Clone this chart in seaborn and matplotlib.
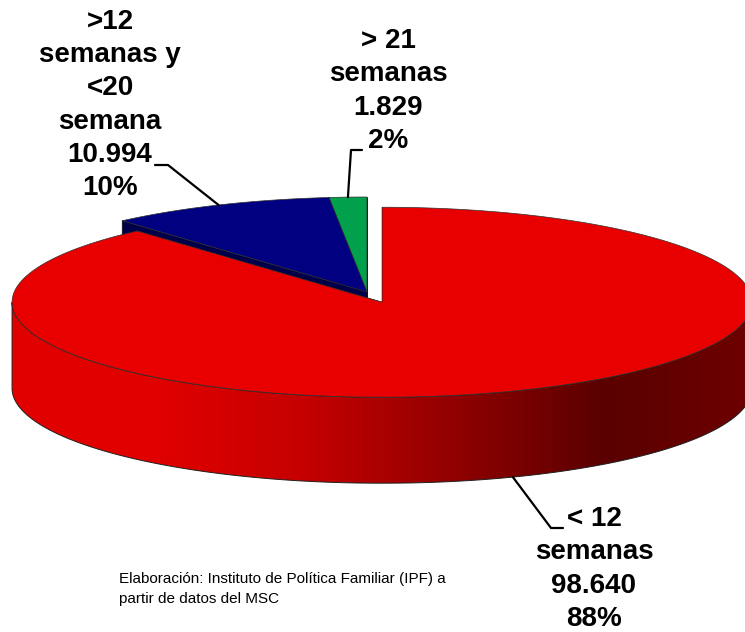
import numpy as np
import matplotlib
matplotlib.use('Agg')
import matplotlib.pyplot as plt
from matplotlib.patches import Polygon
from matplotlib.colors import ListedColormap
import seaborn as sns

# datos (orden: empezando en las 12 en punto, sentido antihorario)
categories = ['> 21\nsemanas', '>12\nsemanas y\n<20\nsemana', '< 12\nsemanas']
counts = [1829, 10994, 98640]
count_labels = ['1.829', '10.994', '98.640']
pct_labels = ['2%', '10%', '88%']
top_colors = ['#00a04c', '#000080', '#e80000']
face_colors = ['#006a34', '#00004a', '#b00000']
side_stops = ['#e20000', '#e00000', '#c40000', '#900000', '#5a0000', '#6e0000']
note = 'Elaboración: Instituto de Política Familiar (IPF) a\npartir de datos del MSC'

# layout (px, y hacia abajo)
W, H = 745, 632
CX, CY = 367, 292
A, B = 370, 95
DEPTH = 86
explode = [0.0, 0.0, 0.115]
label_xy = [(388, 91), (110, 105), (594, 569)]
elbows = [[(351, 150), (362, 150)], [(168, 165), (155, 165)], [(551, 528), (563, 528)]]

sns.set_theme(style='white')
plt.rcParams['font.family'] = ['Liberation Sans', 'DejaVu Sans']

fig = plt.figure(figsize=(W / 100, H / 100), dpi=100)
ax = fig.add_axes([0, 0, 1, 1])
ax.set_xlim(0, W)
ax.set_ylim(H, 0)
ax.axis('off')


def rim(t, cx, cy, dy=0):
    t = np.radians(t)
    return cx + A * np.cos(t), cy - B * np.sin(t) + dy


fr = np.array(counts) / np.sum(counts)
edges = 90 + 360 * np.concatenate([[0], np.cumsum(fr)])
side_cmap = ListedColormap(sns.blend_palette(side_stops, 256))

for i in range(len(counts)):
    t0, t1 = edges[i], edges[i + 1]
    mid = (t0 + t1) / 2
    ox = explode[i] * A * np.cos(np.radians(mid))
    oy = -explode[i] * B * np.sin(np.radians(mid))
    cx, cy = CX + ox, CY + oy

    # caras radiales
    for t in (t0, t1):
        x, y = rim(t, cx, cy)
        ax.add_patch(Polygon([(cx, cy), (x, y), (x, y + DEPTH), (cx, cy + DEPTH)],
                             closed=True, fc=face_colors[i], ec='#101010', lw=0.5))

    # lateral frontal
    lo, hi = max(t0, 180), min(t1, 360)
    if hi > lo:
        ts = np.linspace(lo, hi, 200)
        xs, ys = rim(ts, cx, cy)
        poly = np.vstack([np.column_stack([xs, ys]),
                          np.column_stack([xs[::-1], ys[::-1] + DEPTH])])
        side = Polygon(poly, closed=True, fc='none', ec='#202020', lw=0.7, zorder=2)
        ax.add_patch(side)
        grad = np.linspace(0, 1, 256)[None, :]
        im = ax.imshow(grad, cmap=side_cmap, aspect='auto',
                       extent=(cx - A, cx + A, cy + B + DEPTH, cy - B), zorder=1)
        im.set_clip_path(side)

    # tapa
    ts = np.linspace(t0, t1, 300)
    xs, ys = rim(ts, cx, cy)
    top = np.vstack([[cx, cy], np.column_stack([xs, ys])])
    ax.add_patch(Polygon(top, closed=True, fc=top_colors[i], ec='#303030', lw=0.5, zorder=3))

    # etiqueta y guía
    if i == 2:
        ax_, ay_ = rim(mid, cx, cy, DEPTH)
    else:
        ax_, ay_ = rim(mid, cx, cy)
    path = [(ax_, ay_)] + elbows[i]
    ax.plot([p[0] for p in path], [p[1] for p in path], color='black', lw=1.6, zorder=4)
    ax.text(label_xy[i][0], label_xy[i][1],
            f'{categories[i]}\n{count_labels[i]}\n{pct_labels[i]}',
            ha='center', va='center', fontsize=20, fontweight='bold',
            linespacing=1.36, color='black', zorder=5)

ax.text(119, 589, note, ha='left', va='center', fontsize=11,
        linespacing=1.5, color='black')

fig.savefig('out.png', dpi=100)
